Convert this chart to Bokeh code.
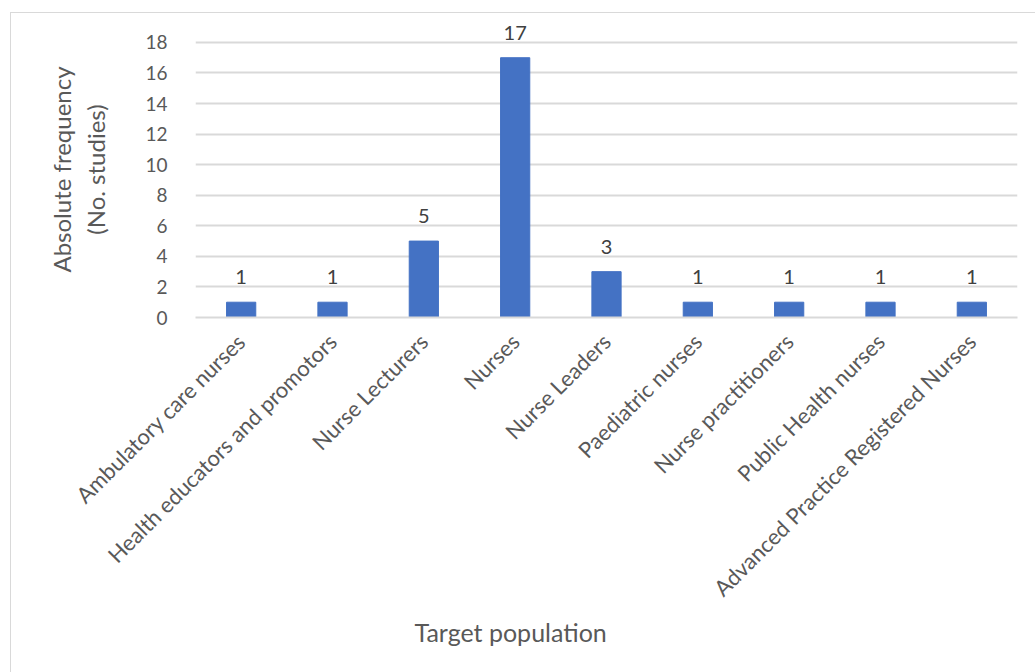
import math
from bokeh.plotting import figure
from bokeh.models import ColumnDataSource, FactorRange, Range1d, FixedTicker, LabelSet, Title
from bokeh.core.properties import value
from bokeh.embed import file_html
from bokeh.resources import INLINE

categories = [
    "Ambulatory care nurses",
    "Health educators and promotors",
    "Nurse Lecturers",
    "Nurses",
    "Nurse Leaders",
    "Paediatric nurses",
    "Nurse practitioners",
    "Public Health nurses",
    "Advanced Practice Registered Nurses",
]
studies = [1, 1, 5, 17, 3, 1, 1, 1, 1]
y_ticks = [0, 2, 4, 6, 8, 10, 12, 14, 16, 18]

source = ColumnDataSource(dict(cat=categories, val=studies, lab=[str(v) for v in studies]))

FONT = "Lato"
TXT = "#595959"

p = figure(
    x_range=FactorRange(*categories, range_padding=0),
    y_range=Range1d(0, 19.37),
    width=1025, height=660,
    output_backend="svg", toolbar_location=None,
    min_border_left=184, min_border_right=19, min_border_top=8, min_border_bottom=356,
    margin=(12, 0, 0, 10),
)
p.styles = {"border-left": "1px solid #d9d9d9", "border-top": "1px solid #d9d9d9"}
p.outline_line_color = None
p.background_fill_color = "white"
p.border_fill_color = "white"

p.vbar(x="cat", top="val", width=0.32, source=source, color="#4472C4")

labels = LabelSet(x="cat", y="val", text="lab", source=source, y_offset=18,
                  text_align="center", text_baseline="alphabetic",
                  text_font=value(FONT), text_font_size="20px", text_color="#404040")
p.add_layout(labels)

# y axis
p.yaxis.ticker = FixedTicker(ticks=y_ticks)
p.yaxis.axis_line_color = None
p.yaxis.major_tick_line_color = None
p.yaxis.minor_tick_line_color = None
p.yaxis.major_label_standoff = 22
p.yaxis.major_label_text_font = FONT
p.yaxis.major_label_text_font_size = "19px"
p.yaxis.major_label_text_color = TXT
p.yaxis.axis_label = "Absolute frequency\n(No. studies)"
p.yaxis.axis_label_text_font = FONT
p.yaxis.axis_label_text_font_size = "24px"
p.yaxis.axis_label_text_font_style = "normal"
p.yaxis.axis_label_text_color = TXT
p.yaxis.axis_label_standoff = 32

# x axis
p.xaxis.axis_line_color = "#d9d9d9"
p.xaxis.axis_line_width = 2
p.xaxis.major_tick_line_color = None
p.xaxis.minor_tick_line_color = None
p.xaxis.major_label_orientation = math.pi / 4
p.xaxis.major_label_standoff = 14
p.xaxis.major_label_text_font = FONT
p.xaxis.major_label_text_font_size = "22px"
p.xaxis.major_label_text_color = TXT

xtitle = Title(text="Target population", align="left", offset=219, standoff=3,
               text_font=FONT, text_font_size="25px", text_font_style="normal",
               text_color=TXT)
p.add_layout(xtitle, "below")

p.xgrid.grid_line_color = None
p.ygrid.grid_line_color = "#d9d9d9"
p.ygrid.grid_line_width = 2

open("out.html", "w").write(file_html(p, INLINE))
